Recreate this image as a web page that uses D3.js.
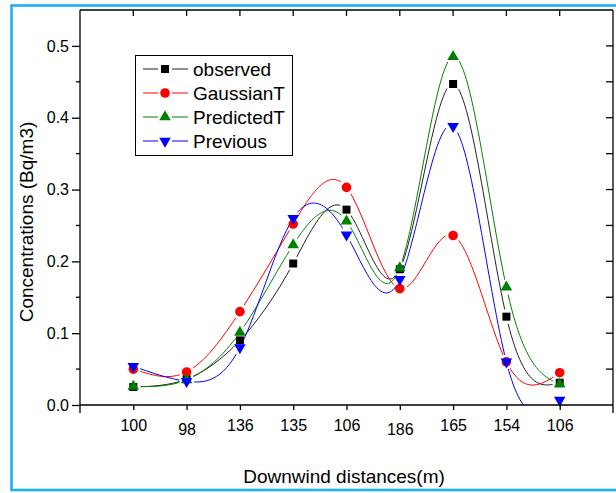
<!DOCTYPE html>
<html>
<head>
<meta charset="utf-8">
<script src="https://cdn.jsdelivr.net/npm/d3@7"></script>
<style>
  body { margin: 0; background: #fff; }
  svg { font-family: Arial, "Liberation Sans", sans-serif; }
</style>
</head>
<body>
<svg id="chart" width="616" height="493"></svg>
<script>
// data
var distances = ['100', '98', '136', '135', '106', '186', '165', '154', '106'];
var observed   = [0.025, 0.036, 0.090, 0.197, 0.272, 0.189, 0.447, 0.123, 0.031];
var gaussianT  = [0.050, 0.046, 0.130, 0.252, 0.303, 0.162, 0.236, 0.060, 0.045];
var predictedT = [0.026, 0.035, 0.101, 0.223, 0.256, 0.191, 0.485, 0.164, 0.029];
var previous   = [0.054, 0.033, 0.080, 0.260, 0.237, 0.175, 0.388, 0.060, 0.007];
var yTicks = [0.0, 0.1, 0.2, 0.3, 0.4, 0.5];

var series = [
  {name: 'observed',   values: observed,   color: '#000',    line: '#222',    symbol: d3.symbolSquare,   size: 64, rotate: 0},
  {name: 'GaussianT',  values: gaussianT,  color: '#ff0000', line: '#ff0000', symbol: d3.symbolCircle,   size: 72, rotate: 0},
  {name: 'PredictedT', values: predictedT, color: '#008000', line: '#008000', symbol: d3.symbolTriangle, size: 58, rotate: 0},
  {name: 'Previous',   values: previous,   color: '#0000ff', line: '#0000ff', symbol: d3.symbolTriangle, size: 58, rotate: 180}
];

var svg = d3.select('#chart'),
    pLeft = 80, pRight = 613, pTop = 10, pBottom = 405;

var x = d3.scaleLinear().domain([0, distances.length + 1]).range([pLeft, pRight]),
    y = d3.scaleLinear().domain([0, 0.55]).range([pBottom, pTop]);

// light blue frame round the whole picture
svg.append('rect')
  .attr('x', 11.5).attr('y', 5.5)
  .attr('width', 640).attr('height', 484.5)
  .attr('fill', 'none')
  .attr('stroke', '#1fb1ea')
  .attr('stroke-width', 2.6);

var defs = svg.append('defs');
defs.append('clipPath').attr('id', 'plotclip')
  .append('rect')
  .attr('x', pLeft).attr('y', pTop)
  .attr('width', pRight - pLeft).attr('height', pBottom - pTop);

// each line breaks a little before its own markers
series.forEach(function(s, k) {
  var m = defs.append('mask').attr('id', 'gap' + k).attr('maskUnits', 'userSpaceOnUse')
    .attr('x', 0).attr('y', 0).attr('width', 616).attr('height', 493);
  m.append('rect').attr('width', 616).attr('height', 493).attr('fill', '#fff');
  m.selectAll('circle').data(s.values).enter().append('circle')
    .attr('cx', function(d, i) { return x(i + 1); })
    .attr('cy', function(d) { return y(d); })
    .attr('r', 7.5)
    .attr('fill', '#000');
});

var line = d3.line()
  .x(function(d, i) { return x(i + 1); })
  .y(function(d) { return y(d); })
  .curve(d3.curveNatural);

var plot = svg.append('g').attr('clip-path', 'url(#plotclip)');
plot.selectAll('.curve').data(series).enter().append('path')
  .attr('class', 'curve')
  .attr('d', function(s) { return line(s.values); })
  .attr('mask', function(s, k) { return 'url(#gap' + k + ')'; })
  .attr('fill', 'none')
  .attr('stroke', function(s) { return s.line; })
  .attr('stroke-width', 1);

function symbolPath(s) {
  return d3.symbol().type(s.symbol).size(s.size)();
}

series.forEach(function(s) {
  svg.append('g').selectAll('path').data(s.values).enter().append('path')
    .attr('d', symbolPath(s))
    .attr('transform', function(d, i) {
      return 'translate(' + x(i + 1) + ',' + y(d) + ') rotate(' + s.rotate + ')';
    })
    .attr('fill', s.color);
});

// axes
var ax = svg.append('g').attr('stroke', '#000').attr('stroke-width', 1.3).attr('fill', 'none');
ax.append('line').attr('x1', pLeft).attr('x2', pRight).attr('y1', pBottom).attr('y2', pBottom);
ax.append('line').attr('x1', pLeft).attr('x2', pRight).attr('y1', pTop).attr('y2', pTop);
ax.append('line').attr('x1', pLeft).attr('x2', pLeft).attr('y1', pTop).attr('y2', pBottom + 8);
ax.append('line').attr('x1', pRight).attr('x2', pRight).attr('y1', pTop).attr('y2', pBottom + 8);

var yAxis = d3.axisLeft(y).tickValues(yTicks).tickSize(8).tickPadding(3).tickFormat(d3.format('.1f'));
var yMinor = d3.range(0.05, 0.55, 0.1);

var gy = svg.append('g').attr('transform', 'translate(' + pLeft + ',0)').call(yAxis);
gy.select('.domain').remove();
gy.selectAll('.tick line').attr('stroke-width', 1.3);
gy.selectAll('.tick text').attr('font-size', 16).attr('fill', '#000')
  .attr('font-family', 'Arial, "Liberation Sans", sans-serif');

ax.selectAll('.yminor').data(yMinor).enter().append('line')
  .attr('x1', pLeft - 4).attr('x2', pLeft)
  .attr('y1', function(d) { return y(d); }).attr('y2', function(d) { return y(d); });

// right side ticks point inward
ax.selectAll('.yright').data(yTicks.slice(1).concat(yMinor)).enter().append('line')
  .attr('x1', pRight - 7).attr('x2', pRight)
  .attr('y1', function(d) { return y(d); }).attr('y2', function(d) { return y(d); });

var idx = d3.range(1, distances.length + 1);
var xAxis = d3.axisBottom(x).tickValues(idx).tickSize(5).tickPadding(9)
  .tickFormat(function(d) { return distances[d - 1]; });
var gx = svg.append('g').attr('transform', 'translate(0,' + pBottom + ')').call(xAxis);
gx.select('.domain').remove();
gx.selectAll('.tick line').attr('stroke-width', 1.3);
gx.selectAll('.tick text').attr('font-size', 16).attr('fill', '#000')
  .attr('font-family', 'Arial, "Liberation Sans", sans-serif')
  .attr('dy', function(d) { return (d === 2 || d === 6) ? '1.0em' : '0.75em'; });

// top ticks inward
ax.selectAll('.xtop').data(idx).enter().append('line')
  .attr('x1', function(d) { return x(d); }).attr('x2', function(d) { return x(d); })
  .attr('y1', pTop).attr('y2', pTop + 6);

// axis titles
svg.append('text')
  .attr('x', 344).attr('y', 483)
  .attr('text-anchor', 'middle')
  .attr('font-size', 19)
  .text('Downwind distances(m)');

svg.append('text')
  .attr('transform', 'translate(33,222) rotate(-90)')
  .attr('text-anchor', 'middle')
  .attr('font-size', 19)
  .text('Concentrations (Bq/m3)');

// legend
var legend = svg.append('g');
legend.append('rect')
  .attr('x', 135.5).attr('y', 55.5).attr('width', 157).attr('height', 100)
  .attr('fill', '#fff').attr('stroke', '#000').attr('stroke-width', 1);

var rows = legend.selectAll('.row').data(series).enter().append('g')
  .attr('transform', function(s, i) { return 'translate(0,' + (69 + i * 24) + ')'; });
rows.append('line').attr('x1', 143).attr('x2', 158).attr('y1', 0).attr('y2', 0)
  .attr('stroke', function(s) { return s.line; }).attr('stroke-width', 1);
rows.append('line').attr('x1', 172).attr('x2', 188).attr('y1', 0).attr('y2', 0)
  .attr('stroke', function(s) { return s.line; }).attr('stroke-width', 1);
rows.append('path')
  .attr('d', function(s) { return symbolPath(s); })
  .attr('transform', function(s) { return 'translate(165,0) rotate(' + s.rotate + ')'; })
  .attr('fill', function(s) { return s.color; });
rows.append('text')
  .attr('x', 193).attr('y', 0).attr('dy', '0.35em')
  .attr('font-size', 19)
  .text(function(s) { return s.name; });
</script>
</body>
</html>
